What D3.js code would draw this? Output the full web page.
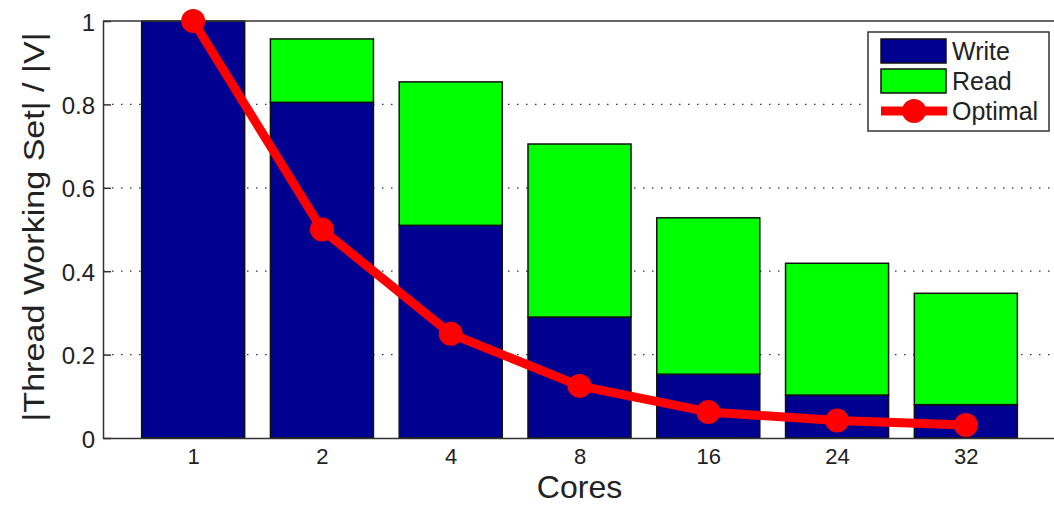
<!DOCTYPE html>
<html>
<head>
<meta charset="utf-8">
<script src="https://cdn.jsdelivr.net/npm/d3@7"></script>
<style>
  body { margin: 0; background: #fff; }
  svg { display: block; font-family: "Liberation Sans", Arial, sans-serif; }
</style>
</head>
<body>
<svg id="chart"></svg>
<script>
// dados
const cores = ["1", "2", "4", "8", "16", "24", "32"]
const writeVals = [1.0, 0.805, 0.51, 0.29, 0.153, 0.103, 0.08]
const readVals = [0.0, 0.152, 0.344, 0.415, 0.375, 0.316, 0.267]
const optimalVals = [1.0, 0.5, 0.25, 0.125, 0.0625, 0.0417, 0.031]
const yTicks = [0, 0.2, 0.4, 0.6, 0.8, 1]

const svgWidth = 1054
const svgHeight = 505
const margin = { left: 103, top: 21, right: -2, bottom: 67 }
const chartWidth = svgWidth - margin.left - margin.right
const chartHeight = svgHeight - margin.top - margin.bottom

const svg = d3.select("#chart")
    .attr("width", svgWidth)
    .attr("height", svgHeight)

const g = svg.append("g")
    .attr("transform", `translate(${margin.left},${margin.top})`)

// escala x linear tipo matlab (xlim 0.3 - 7.7)
const xScale = d3.scaleLinear()
    .domain([0.3, 7.7])
    .range([0, chartWidth])
const step = xScale(2) - xScale(1)
const barW = step * 0.8

const yScale = d3.scaleLinear()
    .domain([0, 1])
    .range([chartHeight, 0])

// grelha
g.selectAll(".grid")
    .data(yTicks.filter(d => d > 0 && d < 1))
    .join("line")
    .attr("x1", 0)
    .attr("x2", chartWidth)
    .attr("y1", d => yScale(d))
    .attr("y2", d => yScale(d))
    .attr("stroke", "#333")
    .attr("stroke-width", 1.3)
    .attr("stroke-dasharray", "1.5,7.5")

// barras empilhadas
const stackData = cores.map((c, i) => ({ core: c, i: i, write: writeVals[i], read: readVals[i] }))
const series = d3.stack().keys(["write", "read"])(stackData)
const colors = { write: "#000090", read: "#00ff00" }

g.selectAll(".serie")
    .data(series)
    .join("g")
    .attr("fill", d => colors[d.key])
    .selectAll("rect")
    .data(d => d.filter(v => v[1] - v[0] > 0))
    .join("rect")
    .attr("x", d => xScale(d.data.i + 1) - barW / 2)
    .attr("width", barW)
    .attr("y", d => yScale(d[1]))
    .attr("height", d => yScale(d[0]) - yScale(d[1]))
    .attr("stroke", "#111")
    .attr("stroke-width", 1.5)

// eixos
const axisColor = "#333"
const yAxis = g.append("g")
    .call(d3.axisLeft(yScale).tickValues(yTicks).tickFormat(d3.format("")).tickSizeInner(-8).tickSizeOuter(0).tickPadding(8))
yAxis.attr("font-size", null).attr("font-family", null)
yAxis.select(".domain").attr("stroke", axisColor).attr("stroke-width", 1.5)
yAxis.selectAll("line").attr("stroke", axisColor).attr("stroke-width", 1.5)
yAxis.selectAll("text").style("font-size", "24px").attr("fill", "#222")
    .attr("x", -8).attr("dy", "0.38em")

const xAxis = g.append("g")
    .attr("transform", `translate(0,${chartHeight})`)
    .call(d3.axisBottom(xScale).tickValues(cores.map((c, i) => i + 1)).tickFormat(d => cores[d - 1]).tickSizeInner(0).tickSizeOuter(0).tickPadding(10))
xAxis.attr("font-size", null).attr("font-family", null)
xAxis.select(".domain").attr("stroke", axisColor).attr("stroke-width", 1.5)
xAxis.selectAll("text").style("font-size", "22px").attr("fill", "#222")

// borda de cima
g.append("line")
    .attr("x1", 0).attr("x2", chartWidth)
    .attr("y1", 0).attr("y2", 0)
    .attr("stroke", axisColor).attr("stroke-width", 1.5)

// linha optimal
const line = d3.line()
    .x((d, i) => xScale(i + 1))
    .y(d => yScale(d))

g.append("path")
    .datum(optimalVals)
    .attr("d", line)
    .attr("fill", "none")
    .attr("stroke", "#ff0000")
    .attr("stroke-width", 9)
    .attr("stroke-linejoin", "round")

g.selectAll(".ponto")
    .data(optimalVals)
    .join("circle")
    .attr("cx", (d, i) => xScale(i + 1))
    .attr("cy", d => yScale(d))
    .attr("r", 12)
    .attr("fill", "#ff0000")

// titulos dos eixos
svg.append("text")
    .attr("x", margin.left + xScale(4))
    .attr("y", 498)
    .attr("text-anchor", "middle")
    .attr("font-size", 32)
    .attr("fill", "#222")
    .text("Cores")

svg.append("text")
    .attr("transform", `translate(44,227) rotate(-90)`)
    .attr("text-anchor", "middle")
    .attr("font-size", 29)
    .attr("textLength", 389)
    .attr("lengthAdjust", "spacingAndGlyphs")
    .attr("fill", "#222")
    .text("|Thread Working Set| / |V|")

// legenda
const legend = svg.append("g").attr("transform", "translate(868,32)")
legend.append("rect")
    .attr("width", 181).attr("height", 99)
    .attr("fill", "#fff").attr("stroke", "#333").attr("stroke-width", 1.5)

const legendItems = [
    { label: "Write", type: "rect", color: colors.write },
    { label: "Read", type: "rect", color: colors.read },
    { label: "Optimal", type: "line", color: "#ff0000" }
]
legendItems.forEach((d, i) => {
    const yc = 19 + i * 30
    if (d.type == "rect") {
        legend.append("rect")
            .attr("x", 13).attr("y", yc - 12)
            .attr("width", 65).attr("height", 24)
            .attr("fill", d.color).attr("stroke", "#111").attr("stroke-width", 1.5)
    } else {
        legend.append("line")
            .attr("x1", 13).attr("x2", 79)
            .attr("y1", yc).attr("y2", yc)
            .attr("stroke", d.color).attr("stroke-width", 9)
        legend.append("circle")
            .attr("cx", 46).attr("cy", yc).attr("r", 12).attr("fill", d.color)
    }
    legend.append("text")
        .attr("x", 84).attr("y", yc + 9)
        .attr("font-size", 25)
        .attr("fill", "#222")
        .text(d.label)
})
</script>
</body>
</html>
